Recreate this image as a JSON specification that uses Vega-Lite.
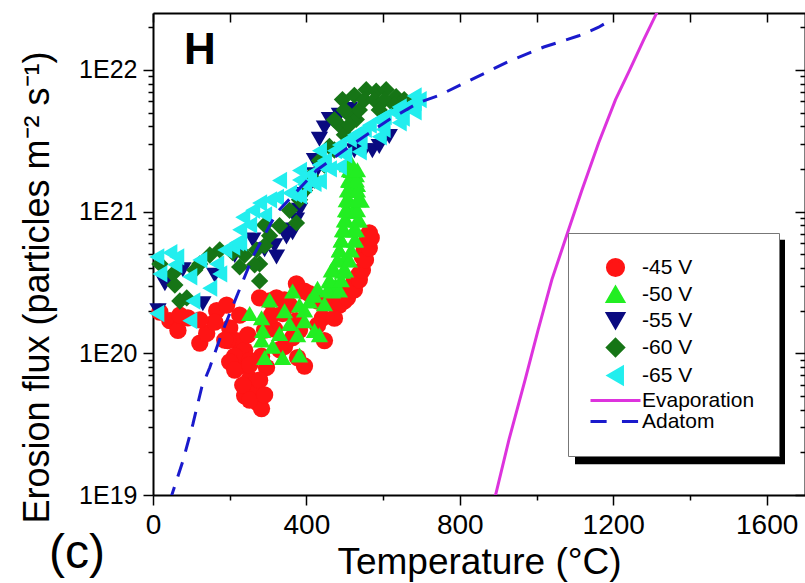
{
  "$schema": "https://vega.github.io/schema/vega-lite/v6.json",
  "width": 652,
  "height": 482,
  "autosize": {"type": "none"},
  "padding": {"left": 153, "top": 13, "right": 0, "bottom": 88},
  "title": {"text": "(c)", "orient": "bottom", "anchor": "start", "frame": "group", "fontSize": 48, "fontWeight": "normal", "font": "Liberation Sans", "color": "black", "dx": -104, "dy": -50, "offset": 0},
  "config": {
    "view": {"stroke": null},
    "font": "Liberation Sans",
    "axis": {"domainColor": "black", "domainWidth": 2, "tickColor": "black", "tickWidth": 1.5, "labelColor": "black", "titleColor": "black", "labelFont": "Liberation Sans", "titleFont": "Liberation Sans", "grid": false}
  },
  "datasets": {
    "pts": [
      {"s": "-45 V", "t": 44, "f": 1.70e20}, {"s": "-45 V", "t": 65, "f": 1.45e20}, {"s": "-45 V", "t": 91, "f": 1.78e20},
      {"s": "-45 V", "t": 122, "f": 1.18e20}, {"s": "-45 V", "t": 140, "f": 1.38e20}, {"s": "-45 V", "t": 166, "f": 2.00e20},
      {"s": "-45 V", "t": 192, "f": 2.19e20}, {"s": "-45 V", "t": 161, "f": 1.66e20}, {"s": "-45 V", "t": 200, "f": 1.51e20},
      {"s": "-45 V", "t": 218, "f": 1.23e20}, {"s": "-45 V", "t": 239, "f": 1.05e20}, {"s": "-45 V", "t": 226, "f": 8.13e19},
      {"s": "-45 V", "t": 252, "f": 6.61e19}, {"s": "-45 V", "t": 265, "f": 5.50e19}, {"s": "-45 V", "t": 239, "f": 5.01e19},
      {"s": "-45 V", "t": 273, "f": 4.47e19}, {"s": "-45 V", "t": 283, "f": 4.07e19}, {"s": "-45 V", "t": 257, "f": 5.89e19},
      {"s": "-45 V", "t": 213, "f": 9.55e19}, {"s": "-45 V", "t": 247, "f": 1.35e20}, {"s": "-45 V", "t": 278, "f": 2.46e20},
      {"s": "-45 V", "t": 304, "f": 2.34e20}, {"s": "-45 V", "t": 322, "f": 2.46e20}, {"s": "-45 V", "t": 338, "f": 1.91e20},
      {"s": "-45 V", "t": 356, "f": 2.19e20}, {"s": "-45 V", "t": 374, "f": 3.09e20}, {"s": "-45 V", "t": 395, "f": 2.75e20},
      {"s": "-45 V", "t": 408, "f": 2.63e20}, {"s": "-45 V", "t": 429, "f": 2.34e20}, {"s": "-45 V", "t": 442, "f": 1.78e20},
      {"s": "-45 V", "t": 468, "f": 2.24e20}, {"s": "-45 V", "t": 447, "f": 1.23e20}, {"s": "-45 V", "t": 377, "f": 9.33e19},
      {"s": "-45 V", "t": 395, "f": 8.13e19}, {"s": "-45 V", "t": 364, "f": 1.29e20}, {"s": "-45 V", "t": 317, "f": 1.48e20},
      {"s": "-45 V", "t": 296, "f": 7.94e19}, {"s": "-45 V", "t": 374, "f": 1.70e20}, {"s": "-45 V", "t": 486, "f": 2.57e20},
      {"s": "-45 V", "t": 512, "f": 2.88e20}, {"s": "-45 V", "t": 525, "f": 3.24e20}, {"s": "-45 V", "t": 538, "f": 3.63e20},
      {"s": "-45 V", "t": 546, "f": 4.79e20}, {"s": "-45 V", "t": 559, "f": 6.31e20}, {"s": "-45 V", "t": 564, "f": 7.08e20},
      {"s": "-45 V", "t": 551, "f": 5.37e20}, {"s": "-45 V", "t": 499, "f": 2.34e20}, {"s": "-45 V", "t": 343, "f": 1.12e20},
      {"s": "-45 V", "t": 309, "f": 1.86e20}, {"s": "-45 V", "t": 200, "f": 8.71e19}, {"s": "-45 V", "t": 283, "f": 9.55e19},
      {"s": "-45 V", "t": 252, "f": 8.91e19}, {"s": "-45 V", "t": 195, "f": 1.23e20},
      {"s": "-45 V", "t": 486, "f": 2.19e20}, {"s": "-45 V", "t": 507, "f": 2.46e20}, {"s": "-45 V", "t": 525, "f": 2.80e20},
      {"s": "-45 V", "t": 538, "f": 3.30e20}, {"s": "-45 V", "t": 546, "f": 3.87e20}, {"s": "-45 V", "t": 554, "f": 4.56e20},
      {"s": "-45 V", "t": 564, "f": 5.53e20}, {"s": "-45 V", "t": 569, "f": 6.52e20}, {"s": "-45 V", "t": 473, "f": 1.77e20},
      {"s": "-45 V", "t": 429, "f": 1.58e20}, {"s": "-45 V", "t": 213, "f": 7.62e19}, {"s": "-45 V", "t": 252, "f": 8.28e19},
      {"s": "-45 V", "t": 234, "f": 5.97e19}, {"s": "-45 V", "t": 278, "f": 6.46e19}, {"s": "-45 V", "t": 252, "f": 4.68e19},
      {"s": "-45 V", "t": 291, "f": 5.08e19}, {"s": "-45 V", "t": 70, "f": 1.86e20}, {"s": "-45 V", "t": 18, "f": 1.95e20},
      {"s": "-45 V", "t": 122, "f": 1.72e20}, {"s": "-45 V", "t": 226, "f": 1.86e20}, {"s": "-45 V", "t": 187, "f": 1.24e20},
      {"s": "-45 V", "t": 291, "f": 1.46e20}, {"s": "-45 V", "t": 343, "f": 2.38e20}, {"s": "-45 V", "t": 382, "f": 1.46e20},
      {"s": "-45 V", "t": 330, "f": 1.06e20},
      {"s": "-50 V", "t": 252, "f": 1.91e20}, {"s": "-50 V", "t": 283, "f": 1.78e20}, {"s": "-50 V", "t": 286, "f": 1.45e20},
      {"s": "-50 V", "t": 291, "f": 9.33e19}, {"s": "-50 V", "t": 338, "f": 9.33e19}, {"s": "-50 V", "t": 330, "f": 1.38e20},
      {"s": "-50 V", "t": 356, "f": 1.62e20}, {"s": "-50 V", "t": 364, "f": 2.75e20}, {"s": "-50 V", "t": 343, "f": 2.00e20},
      {"s": "-50 V", "t": 382, "f": 2.19e20}, {"s": "-50 V", "t": 395, "f": 1.70e20}, {"s": "-50 V", "t": 408, "f": 2.34e20},
      {"s": "-50 V", "t": 429, "f": 2.88e20}, {"s": "-50 V", "t": 447, "f": 2.24e20}, {"s": "-50 V", "t": 460, "f": 3.24e20},
      {"s": "-50 V", "t": 473, "f": 3.89e20}, {"s": "-50 V", "t": 481, "f": 4.57e20}, {"s": "-50 V", "t": 486, "f": 5.37e20},
      {"s": "-50 V", "t": 491, "f": 6.31e20}, {"s": "-50 V", "t": 499, "f": 7.41e20}, {"s": "-50 V", "t": 504, "f": 8.71e20},
      {"s": "-50 V", "t": 507, "f": 1.02e21}, {"s": "-50 V", "t": 512, "f": 1.20e21}, {"s": "-50 V", "t": 517, "f": 1.41e21},
      {"s": "-50 V", "t": 512, "f": 1.66e21}, {"s": "-50 V", "t": 517, "f": 1.95e21}, {"s": "-50 V", "t": 507, "f": 2.14e21},
      {"s": "-50 V", "t": 528, "f": 6.31e20}, {"s": "-50 V", "t": 538, "f": 8.71e20}, {"s": "-50 V", "t": 543, "f": 1.20e21},
      {"s": "-50 V", "t": 533, "f": 1.55e21}, {"s": "-50 V", "t": 499, "f": 4.57e20}, {"s": "-50 V", "t": 468, "f": 2.75e20},
      {"s": "-50 V", "t": 421, "f": 1.45e20}, {"s": "-50 V", "t": 377, "f": 1.35e20}, {"s": "-50 V", "t": 312, "f": 1.12e20},
      {"s": "-50 V", "t": 520, "f": 1.00e21}, {"s": "-50 V", "t": 530, "f": 1.82e21}, {"s": "-50 V", "t": 522, "f": 7.41e20},
      {"s": "-50 V", "t": 494, "f": 3.80e20}, {"s": "-50 V", "t": 476, "f": 3.02e20},
      {"s": "-50 V", "t": 455, "f": 2.80e20}, {"s": "-50 V", "t": 486, "f": 2.80e20}, {"s": "-50 V", "t": 460, "f": 3.30e20},
      {"s": "-50 V", "t": 491, "f": 3.30e20}, {"s": "-50 V", "t": 465, "f": 3.87e20}, {"s": "-50 V", "t": 502, "f": 3.87e20},
      {"s": "-50 V", "t": 481, "f": 4.56e20}, {"s": "-50 V", "t": 512, "f": 4.56e20}, {"s": "-50 V", "t": 486, "f": 5.36e20},
      {"s": "-50 V", "t": 517, "f": 5.36e20}, {"s": "-50 V", "t": 491, "f": 6.31e20}, {"s": "-50 V", "t": 525, "f": 6.31e20},
      {"s": "-50 V", "t": 494, "f": 7.43e20}, {"s": "-50 V", "t": 530, "f": 7.43e20}, {"s": "-50 V", "t": 499, "f": 8.73e20},
      {"s": "-50 V", "t": 533, "f": 8.73e20}, {"s": "-50 V", "t": 502, "f": 1.03e21}, {"s": "-50 V", "t": 533, "f": 1.03e21},
      {"s": "-50 V", "t": 504, "f": 1.21e21}, {"s": "-50 V", "t": 533, "f": 1.21e21}, {"s": "-50 V", "t": 507, "f": 1.42e21},
      {"s": "-50 V", "t": 533, "f": 1.42e21}, {"s": "-50 V", "t": 510, "f": 1.67e21}, {"s": "-50 V", "t": 530, "f": 1.67e21},
      {"s": "-50 V", "t": 512, "f": 1.97e21}, {"s": "-50 V", "t": 533, "f": 1.97e21}, {"s": "-50 V", "t": 517, "f": 2.20e21},
      {"s": "-50 V", "t": 304, "f": 2.38e20}, {"s": "-50 V", "t": 395, "f": 2.02e20}, {"s": "-50 V", "t": 421, "f": 2.57e20},
      {"s": "-50 V", "t": 283, "f": 1.24e20}, {"s": "-50 V", "t": 382, "f": 9.73e19}, {"s": "-50 V", "t": 434, "f": 1.35e20},
      {"s": "-55 V", "t": 13, "f": 2.00e20}, {"s": "-55 V", "t": 31, "f": 3.09e20}, {"s": "-55 V", "t": 78, "f": 3.89e20},
      {"s": "-55 V", "t": 130, "f": 2.24e20}, {"s": "-55 V", "t": 161, "f": 3.55e20}, {"s": "-55 V", "t": 213, "f": 4.90e20},
      {"s": "-55 V", "t": 260, "f": 6.31e20}, {"s": "-55 V", "t": 291, "f": 5.37e20}, {"s": "-55 V", "t": 322, "f": 4.79e20},
      {"s": "-55 V", "t": 338, "f": 7.41e20}, {"s": "-55 V", "t": 348, "f": 6.61e20}, {"s": "-55 V", "t": 364, "f": 7.08e20},
      {"s": "-55 V", "t": 374, "f": 8.71e20}, {"s": "-55 V", "t": 395, "f": 1.32e21}, {"s": "-55 V", "t": 408, "f": 1.66e21},
      {"s": "-55 V", "t": 421, "f": 2.29e21}, {"s": "-55 V", "t": 434, "f": 3.24e21}, {"s": "-55 V", "t": 447, "f": 3.89e21},
      {"s": "-55 V", "t": 460, "f": 4.47e21}, {"s": "-55 V", "t": 486, "f": 4.79e21}, {"s": "-55 V", "t": 512, "f": 5.25e21},
      {"s": "-55 V", "t": 525, "f": 2.69e21}, {"s": "-55 V", "t": 551, "f": 2.69e21}, {"s": "-55 V", "t": 572, "f": 2.69e21},
      {"s": "-55 V", "t": 590, "f": 2.88e21}, {"s": "-55 V", "t": 616, "f": 3.39e21}, {"s": "-55 V", "t": 382, "f": 1.02e21},
      {"s": "-55 V", "t": 421, "f": 1.82e21}, {"s": "-55 V", "t": 317, "f": 5.75e20},
      {"s": "-60 V", "t": 18, "f": 4.27e20}, {"s": "-60 V", "t": 52, "f": 3.63e20}, {"s": "-60 V", "t": 70, "f": 2.34e20},
      {"s": "-60 V", "t": 88, "f": 2.46e20}, {"s": "-60 V", "t": 122, "f": 4.27e20}, {"s": "-60 V", "t": 174, "f": 5.37e20},
      {"s": "-60 V", "t": 208, "f": 5.13e20}, {"s": "-60 V", "t": 226, "f": 4.07e20}, {"s": "-60 V", "t": 270, "f": 5.37e20},
      {"s": "-60 V", "t": 278, "f": 4.27e20}, {"s": "-60 V", "t": 278, "f": 3.24e20}, {"s": "-60 V", "t": 304, "f": 6.76e20},
      {"s": "-60 V", "t": 330, "f": 7.94e20}, {"s": "-60 V", "t": 356, "f": 1.02e21}, {"s": "-60 V", "t": 374, "f": 8.32e20},
      {"s": "-60 V", "t": 395, "f": 1.41e21}, {"s": "-60 V", "t": 408, "f": 1.74e21}, {"s": "-60 V", "t": 434, "f": 2.29e21},
      {"s": "-60 V", "t": 460, "f": 2.88e21}, {"s": "-60 V", "t": 486, "f": 4.07e21}, {"s": "-60 V", "t": 512, "f": 4.79e21},
      {"s": "-60 V", "t": 530, "f": 4.47e21}, {"s": "-60 V", "t": 494, "f": 6.17e21}, {"s": "-60 V", "t": 525, "f": 6.61e21},
      {"s": "-60 V", "t": 556, "f": 7.24e21}, {"s": "-60 V", "t": 582, "f": 7.08e21}, {"s": "-60 V", "t": 608, "f": 7.24e21},
      {"s": "-60 V", "t": 634, "f": 6.46e21}, {"s": "-60 V", "t": 655, "f": 6.17e21}, {"s": "-60 V", "t": 668, "f": 5.62e21},
      {"s": "-60 V", "t": 291, "f": 5.75e20},
      {"s": "-60 V", "t": 382, "f": 1.21e21}, {"s": "-60 V", "t": 421, "f": 1.67e21}, {"s": "-60 V", "t": 447, "f": 2.13e21},
      {"s": "-60 V", "t": 473, "f": 2.72e21}, {"s": "-60 V", "t": 499, "f": 3.48e21}, {"s": "-60 V", "t": 512, "f": 4.09e21},
      {"s": "-60 V", "t": 538, "f": 5.22e21}, {"s": "-60 V", "t": 551, "f": 6.14e21}, {"s": "-60 V", "t": 577, "f": 6.14e21},
      {"s": "-60 V", "t": 603, "f": 6.14e21}, {"s": "-60 V", "t": 629, "f": 5.66e21}, {"s": "-60 V", "t": 590, "f": 5.22e21},
      {"s": "-60 V", "t": 499, "f": 5.22e21}, {"s": "-60 V", "t": 473, "f": 4.44e21},
      {"s": "-60 V", "t": 57, "f": 3.03e20}, {"s": "-60 V", "t": 109, "f": 3.87e20}, {"s": "-60 V", "t": 148, "f": 4.94e20},
      {"s": "-60 V", "t": 239, "f": 4.94e20}, {"s": "-60 V", "t": 265, "f": 4.21e20}, {"s": "-60 V", "t": 291, "f": 8.05e20},
      {"s": "-65 V", "t": 10, "f": 4.79e20}, {"s": "-65 V", "t": 44, "f": 5.13e20}, {"s": "-65 V", "t": 62, "f": 4.79e20},
      {"s": "-65 V", "t": 18, "f": 3.63e20}, {"s": "-65 V", "t": 10, "f": 1.91e20}, {"s": "-65 V", "t": 96, "f": 3.47e20},
      {"s": "-65 V", "t": 148, "f": 2.88e20}, {"s": "-65 V", "t": 104, "f": 2.34e20}, {"s": "-65 V", "t": 96, "f": 1.70e20},
      {"s": "-65 V", "t": 166, "f": 4.27e20}, {"s": "-65 V", "t": 174, "f": 3.63e20}, {"s": "-65 V", "t": 208, "f": 5.62e20},
      {"s": "-65 V", "t": 226, "f": 6.03e20}, {"s": "-65 V", "t": 234, "f": 9.12e20}, {"s": "-65 V", "t": 260, "f": 1.02e21},
      {"s": "-65 V", "t": 278, "f": 1.15e21}, {"s": "-65 V", "t": 218, "f": 6.03e20}, {"s": "-65 V", "t": 322, "f": 1.26e21},
      {"s": "-65 V", "t": 356, "f": 1.35e21}, {"s": "-65 V", "t": 330, "f": 1.66e21}, {"s": "-65 V", "t": 369, "f": 1.32e21},
      {"s": "-65 V", "t": 395, "f": 1.55e21}, {"s": "-65 V", "t": 408, "f": 1.82e21}, {"s": "-65 V", "t": 434, "f": 2.14e21},
      {"s": "-65 V", "t": 447, "f": 2.29e21}, {"s": "-65 V", "t": 473, "f": 2.69e21}, {"s": "-65 V", "t": 486, "f": 2.95e21},
      {"s": "-65 V", "t": 512, "f": 3.24e21}, {"s": "-65 V", "t": 525, "f": 3.47e21}, {"s": "-65 V", "t": 551, "f": 3.80e21},
      {"s": "-65 V", "t": 564, "f": 4.07e21}, {"s": "-65 V", "t": 590, "f": 4.47e21}, {"s": "-65 V", "t": 603, "f": 4.68e21},
      {"s": "-65 V", "t": 629, "f": 5.01e21}, {"s": "-65 V", "t": 642, "f": 5.25e21}, {"s": "-65 V", "t": 668, "f": 5.62e21},
      {"s": "-65 V", "t": 681, "f": 5.89e21}, {"s": "-65 V", "t": 694, "f": 6.17e21}, {"s": "-65 V", "t": 382, "f": 1.95e21},
      {"s": "-65 V", "t": 434, "f": 2.69e21}, {"s": "-65 V", "t": 500, "f": 2.51e21}, {"s": "-65 V", "t": 540, "f": 3.16e21},
      {"s": "-65 V", "t": 600, "f": 3.80e21}, {"s": "-65 V", "t": 650, "f": 4.57e21}, {"s": "-65 V", "t": 460, "f": 2.00e21},
      {"s": "-65 V", "t": 420, "f": 1.58e21},
      {"s": "-65 V", "t": 382, "f": 1.67e21}, {"s": "-65 V", "t": 382, "f": 1.29e21}, {"s": "-65 V", "t": 434, "f": 2.13e21},
      {"s": "-65 V", "t": 434, "f": 1.64e21}, {"s": "-65 V", "t": 486, "f": 2.72e21}, {"s": "-65 V", "t": 486, "f": 2.07e21},
      {"s": "-65 V", "t": 538, "f": 3.42e21}, {"s": "-65 V", "t": 538, "f": 2.64e21}, {"s": "-65 V", "t": 590, "f": 4.37e21},
      {"s": "-65 V", "t": 590, "f": 3.37e21}, {"s": "-65 V", "t": 642, "f": 5.48e21}, {"s": "-65 V", "t": 642, "f": 4.23e21},
      {"s": "-65 V", "t": 681, "f": 6.55e21}, {"s": "-65 V", "t": 681, "f": 5.05e21},
      {"s": "-65 V", "t": 57, "f": 4.21e20}, {"s": "-65 V", "t": 122, "f": 4.56e20}, {"s": "-65 V", "t": 187, "f": 5.36e20},
      {"s": "-65 V", "t": 252, "f": 8.05e20}, {"s": "-65 V", "t": 291, "f": 9.47e20}, {"s": "-65 V", "t": 304, "f": 1.21e21},
      {"s": "-65 V", "t": 226, "f": 7.43e20}
    ],
    "cur": [
      {"s": "Evaporation", "t": 885, "f": 9.0e18}, {"s": "Evaporation", "t": 894, "f": 1.02e19},
      {"s": "Evaporation", "t": 928, "f": 2.45e19}, {"s": "Evaporation", "t": 970, "f": 6.46e19},
      {"s": "Evaporation", "t": 1004, "f": 1.46e20}, {"s": "Evaporation", "t": 1040, "f": 3.31e20},
      {"s": "Evaporation", "t": 1082, "f": 7.24e20}, {"s": "Evaporation", "t": 1118, "f": 1.41e21},
      {"s": "Evaporation", "t": 1162, "f": 3.06e21}, {"s": "Evaporation", "t": 1206, "f": 6.17e21},
      {"s": "Evaporation", "t": 1243, "f": 1.00e22}, {"s": "Evaporation", "t": 1279, "f": 1.62e22},
      {"s": "Evaporation", "t": 1313, "f": 2.51e22}, {"s": "Evaporation", "t": 1344, "f": 4.3e22},
      {"s": "Adatom", "t": 47, "f": 9.0e18}, {"s": "Adatom", "t": 49, "f": 1.00e19}, {"s": "Adatom", "t": 78, "f": 1.74e19},
      {"s": "Adatom", "t": 104, "f": 3.16e19}, {"s": "Adatom", "t": 127, "f": 5.75e19}, {"s": "Adatom", "t": 148, "f": 7.94e19},
      {"s": "Adatom", "t": 179, "f": 1.38e20}, {"s": "Adatom", "t": 221, "f": 2.63e20}, {"s": "Adatom", "t": 260, "f": 4.79e20},
      {"s": "Adatom", "t": 322, "f": 9.77e20}, {"s": "Adatom", "t": 426, "f": 1.95e21}, {"s": "Adatom", "t": 512, "f": 2.88e21},
      {"s": "Adatom", "t": 616, "f": 4.47e21}, {"s": "Adatom", "t": 694, "f": 5.89e21}, {"s": "Adatom", "t": 746, "f": 6.61e21},
      {"s": "Adatom", "t": 837, "f": 8.71e21}, {"s": "Adatom", "t": 928, "f": 1.15e22}, {"s": "Adatom", "t": 1019, "f": 1.45e22},
      {"s": "Adatom", "t": 1110, "f": 1.74e22}, {"s": "Adatom", "t": 1162, "f": 2.00e22}, {"s": "Adatom", "t": 1180, "f": 2.14e22}
    ]
  },
  "layer": [
    {
      "data": {"name": "pts"},
      "mark": {"type": "point", "filled": true, "opacity": 1, "size": 300, "strokeWidth": 0},
      "encoding": {
        "x": {"field": "t", "type": "quantitative", "scale": {"domain": [0, 1700], "nice": false, "zero": false},
          "axis": {"orient": "bottom", "values": [0, 200, 400, 600, 800, 1000, 1200, 1400, 1600], "format": "d", "labelFlush": false,
            "labelExpr": "datum.value % 400 === 0 ? datum.label : ''",
            "tickSize": {"condition": {"test": "datum.value % 400 === 0", "value": 10}, "value": 5},
            "labelFontSize": 28, "labelPadding": 6, "title": "Temperature (°C)", "titleFontSize": 37, "titleFontWeight": "normal",
            "titleX": 326, "titleY": 78, "titleBaseline": "alphabetic", "titleAlign": "center"}},
        "y": {"field": "f", "type": "quantitative", "scale": {"type": "log", "domain": [1e19, 2.52e22], "nice": false},
          "axis": {"orient": "left",
            "values": [1e19, 2e19, 3e19, 4e19, 5e19, 6e19, 7e19, 8e19, 9e19, 1e20, 2e20, 3e20, 4e20, 5e20, 6e20, 7e20, 8e20, 9e20, 1e21, 2e21, 3e21, 4e21, 5e21, 6e21, 7e21, 8e21, 9e21, 1e22, 2e22],
            "labelExpr": "abs(log(datum.value)/LN10 - round(log(datum.value)/LN10)) < 0.001 ? '1E' + round(log(datum.value)/LN10) : ''",
            "tickSize": {"condition": {"test": "abs(log(datum.value)/LN10 - round(log(datum.value)/LN10)) < 0.001", "value": 10}, "value": 5},
            "labelFontSize": 25, "labelPadding": 6, "labelOverlap": false,
            "title": "Erosion flux (particles m⁻² s⁻¹)", "titleFontSize": 36, "titleFontWeight": "normal",
            "titleX": -97, "titleY": 274, "titleAngle": -90, "titleBaseline": "bottom", "titleAlign": "center"}},
        "color": {"field": "s", "type": "nominal",
          "scale": {"domain": ["-45 V", "-50 V", "-55 V", "-60 V", "-65 V", "Evaporation", "Adatom"],
            "range": ["#ff1414", "#22ee22", "#0a0a80", "#167516", "#22eeee", "#dd33dd", "#1a1acc"]},
          "legend": {"orient": "none", "legendX": 415, "legendY": 220, "title": null, "fillColor": "white", "strokeColor": "#777777",
            "padding": 24, "symbolOffset": 13, "labelOffset": 16, "rowPadding": -1, "symbolSize": 260, "symbolStrokeWidth": 3,
            "labelFontSize": 21, "labelFont": "Liberation Sans", "labelColor": "black", "zindex": 2}},
        "shape": {"field": "s", "type": "nominal",
          "scale": {"domain": ["-45 V", "-50 V", "-55 V", "-60 V", "-65 V", "Evaporation", "Adatom"],
            "range": ["circle", "triangle-up", "triangle-down", "diamond", "triangle-left", "M-3.1,0H3.1", "M-3.1,0H-1.1M0.8,0H2.8"]},
          "legend": {"orient": "none", "legendX": 415, "legendY": 220, "title": null, "fillColor": "white", "strokeColor": "#777777",
            "padding": 24, "symbolOffset": 13, "labelOffset": 16, "rowPadding": -1, "symbolSize": 260, "symbolStrokeWidth": 3,
            "labelFontSize": 21, "labelFont": "Liberation Sans", "labelColor": "black", "zindex": 2}}
      }
    },
    {
      "data": {"name": "cur"},
      "transform": [{"filter": "datum.s === 'Evaporation'"}],
      "mark": {"type": "line", "strokeWidth": 3, "clip": true},
      "encoding": {
        "x": {"field": "t", "type": "quantitative",
          "axis": {"orient": "top", "values": [0, 200, 400, 600, 800, 1000, 1200, 1400, 1600], "labels": false, "tickSize": -9, "title": null}},
        "y": {"field": "f", "type": "quantitative",
          "axis": {"orient": "right",
            "values": [1e19, 2e19, 3e19, 4e19, 5e19, 6e19, 7e19, 8e19, 9e19, 1e20, 2e20, 3e20, 4e20, 5e20, 6e20, 7e20, 8e20, 9e20, 1e21, 2e21, 3e21, 4e21, 5e21, 6e21, 7e21, 8e21, 9e21, 1e22, 2e22],
            "labels": false, "title": null,
            "tickSize": {"condition": {"test": "abs(log(datum.value)/LN10 - round(log(datum.value)/LN10)) < 0.001", "value": -10}, "value": -5}}},
        "color": {"field": "s", "type": "nominal"},
        "opacity": {"field": "s", "type": "nominal", "scale": {"domain": ["Evaporation"], "range": [1]},
          "legend": {"orient": "none", "legendX": 422, "legendY": 234, "title": null, "padding": 0,
            "symbolType": "M-1,-1.07H1V1.07H-1Z", "symbolSize": 44100, "labelExpr": "''", "labelFontSize": 1, "labelOffset": 0, "zindex": 1,
            "encode": {"symbols": {"update": {"fill": {"value": "black"}, "stroke": {"value": "black"}, "strokeWidth": {"value": 0}, "opacity": {"value": 1}}}}}}
      }
    },
    {
      "data": {"name": "cur"},
      "transform": [{"filter": "datum.s === 'Adatom'"}],
      "mark": {"type": "line", "strokeWidth": 3, "strokeDash": [15, 11], "clip": true},
      "encoding": {
        "x": {"field": "t", "type": "quantitative", "axis": null},
        "y": {"field": "f", "type": "quantitative", "axis": null},
        "color": {"field": "s", "type": "nominal"}
      }
    },
    {
      "data": {"values": [{"label": "H", "t": 122, "f": 1.35e22}]},
      "mark": {"type": "text", "fontSize": 44, "fontWeight": "bold", "font": "Liberation Sans", "color": "black", "align": "center", "baseline": "middle"},
      "encoding": {
        "x": {"field": "t", "type": "quantitative", "axis": null},
        "y": {"field": "f", "type": "quantitative", "axis": null},
        "text": {"field": "label"}
      }
    }
  ],
  "resolve": {"axis": {"x": "independent", "y": "independent"}}
}
